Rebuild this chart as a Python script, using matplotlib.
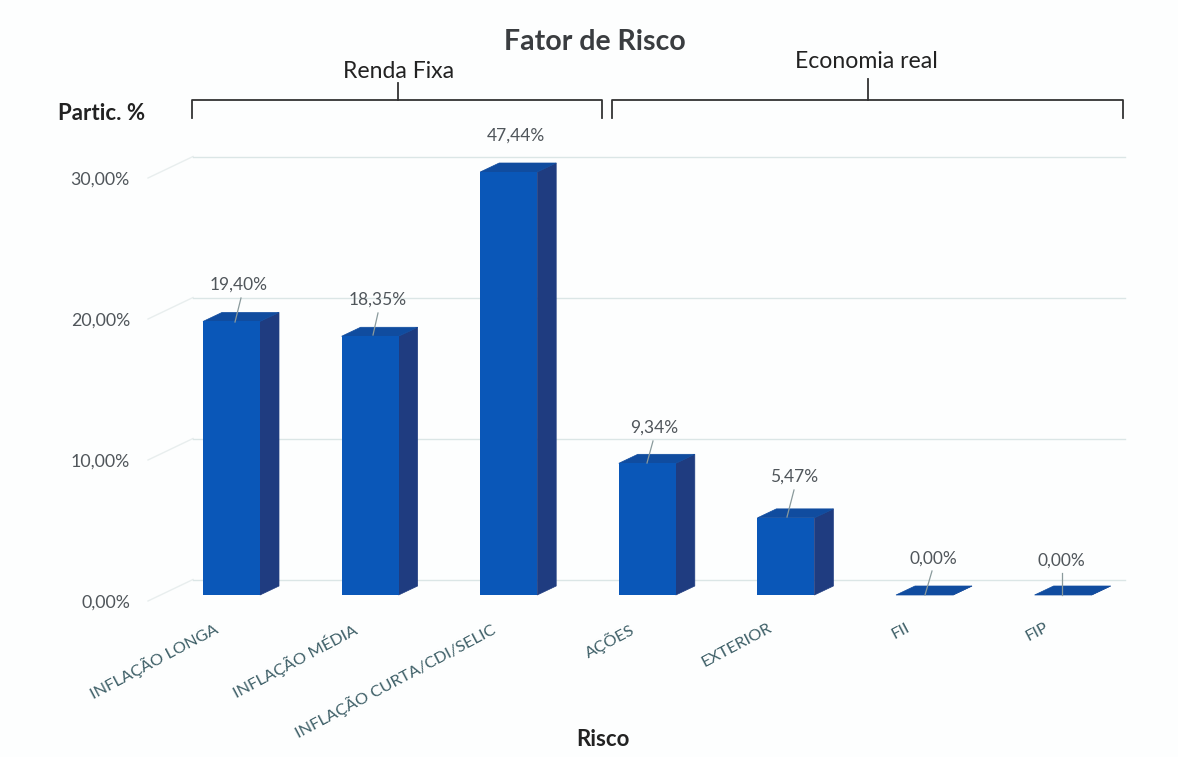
#coding:utf8

import numpy as np
import matplotlib
matplotlib.use("Agg")
import matplotlib.pyplot as plt

# dados do grafico
categorias = ["INFLAÇÃO LONGA", "INFLAÇÃO MÉDIA", "INFLAÇÃO CURTA/CDI/SELIC",
              "AÇÕES", "EXTERIOR", "FII", "FIP"]
particip = [19.40, 18.35, 47.44, 9.34, 5.47, 0.00, 0.00]
rotulos = ["19,40%", "18,35%", "47,44%", "9,34%", "5,47%", "0,00%", "0,00%"]
ticks_y = [0, 10, 20, 30]
ticks_y_txt = ["0,00%", "10,00%", "20,00%", "30,00%"]

W, H = 1178, 757
plt.rcParams["font.family"] = ["Lato", "DejaVu Sans"]

fig = plt.figure(figsize=(W / 100, H / 100), dpi=100, facecolor="#fdfefe")

# eixo em pixels da imagem : 0% em y=601, 30% em y=178
esq, dir_, base, topo = 148, 1125, 601, 178
ax = fig.add_axes([esq / W, 1 - base / H, (dir_ - esq) / W, (base - topo) / H])
ax.patch.set_visible(False)
passo = 138.6
ax.set_xlim((esq - 231.5) / passo, (dir_ - 231.5) / passo)
ax.set_ylim(0, 30)
for s in ax.spines.values():
    s.set_visible(False)

px_y = (base - topo) / 30.0  # pixels por ponto percentual
x = np.arange(len(categorias))
largura = 57 / passo
prof_x = 19 / passo
prof_y = 9 / px_y
piso = 6 / px_y
altura = np.minimum(particip, 30)

# parede do fundo e linhas de grade
dx_g = 45 / passo
dy_g = 21.5 / px_y
x0 = ax.get_xlim()[0]
x1 = ax.get_xlim()[1]
for v in ticks_y:
    ax.plot([x0, x0 + dx_g], [v, v + dy_g], color="#e8eeee", lw=1, zorder=1, clip_on=False)
    ax.plot([x0 + dx_g, x1], [v + dy_g, v + dy_g], color="#dbe6e6", lw=1, zorder=1, clip_on=False)

# barras : lado, topo e frente
for xi, h in zip(x, altura):
    d = xi + largura / 2
    e = xi - largura / 2
    t = piso + h
    ax.fill([d, d + prof_x, d + prof_x, d], [piso, piso + prof_y, t + prof_y, t],
            facecolor="#1f3c80", edgecolor="#1f3c80", lw=0.5, zorder=3, clip_on=False)
    ax.fill([e, e + prof_x, d + prof_x, d], [t, t + prof_y, t + prof_y, t],
            facecolor="#104c9f", edgecolor="#104c9f", lw=0.5, zorder=3, clip_on=False)
ax.bar(x, altura, width=largura, bottom=piso, color="#0a57b8", zorder=4, clip_on=False)

# eixos
ax.set_yticks(ticks_y)
ax.set_yticklabels(ticks_y_txt, fontsize=12.8, color="#50565b")
ax.tick_params(axis="y", length=0, pad=13)
ax.set_xticks(x - 0.133)
ax.set_xticklabels(categorias, rotation=28, ha="right", va="top", rotation_mode="anchor",
                   fontsize=11.8, color="#3f6068")
ax.tick_params(axis="x", length=0, pad=14)

# textos e chaves, em pixels da imagem
def fx(px):
    return px / W

def fy(py):
    return 1 - py / H

fig.text(fx(595), fy(42), "Fator de Risco", fontsize=20.5, fontweight="bold",
         color="#3a3d40", ha="center", va="center")
fig.text(fx(399), fy(71), "Renda Fixa", fontsize=16.6, color="#222222", ha="center", va="center")
fig.text(fx(866), fy(62), "Economia real", fontsize=16.6, color="#222222", ha="center", va="center")
fig.text(fx(102), fy(114), "Partic. %", fontsize=16, fontweight="bold", color="#222222",
         ha="center", va="center")
fig.text(fx(603), fy(740), "Risco", fontsize=16, fontweight="bold", color="#222222",
         ha="center", va="center")

chaves = [(192, 602, 398, 83), (612, 1123, 868, 79)]
for a, b, m, t in chaves:
    fig.add_artist(plt.Line2D([fx(a), fx(a), fx(b), fx(b)], [fy(118), fy(100), fy(100), fy(118)],
                              color="#333333", lw=1.3))
    fig.add_artist(plt.Line2D([fx(m), fx(m)], [fy(100), fy(t)], color="#333333", lw=1.3))

# rotulos de dados : centro do texto e linha de chamada
pos_rotulo = [(239, 285), (378, 300), (516, 136), (654, 428), (794, 477), (933, 559), (1061, 561)]
chamadas = [(241, 298, 235, 322), (378, 313, 373, 335), None, (653, 441, 647, 463),
            (794, 490, 787, 517), (932, 571, 925, 595), (1062, 573, 1062, 595)]
for txt, p, c in zip(rotulos, pos_rotulo, chamadas):
    fig.text(fx(p[0]), fy(p[1]), txt, fontsize=12.5, color="#50565b", ha="center", va="center", zorder=5)
    if c is not None:
        fig.add_artist(plt.Line2D([fx(c[0]), fx(c[2])], [fy(c[1]), fy(c[3])],
                                  color="#8a9a9c", lw=0.9, zorder=5))

fig.savefig("out.png", dpi=100, facecolor=fig.get_facecolor())
